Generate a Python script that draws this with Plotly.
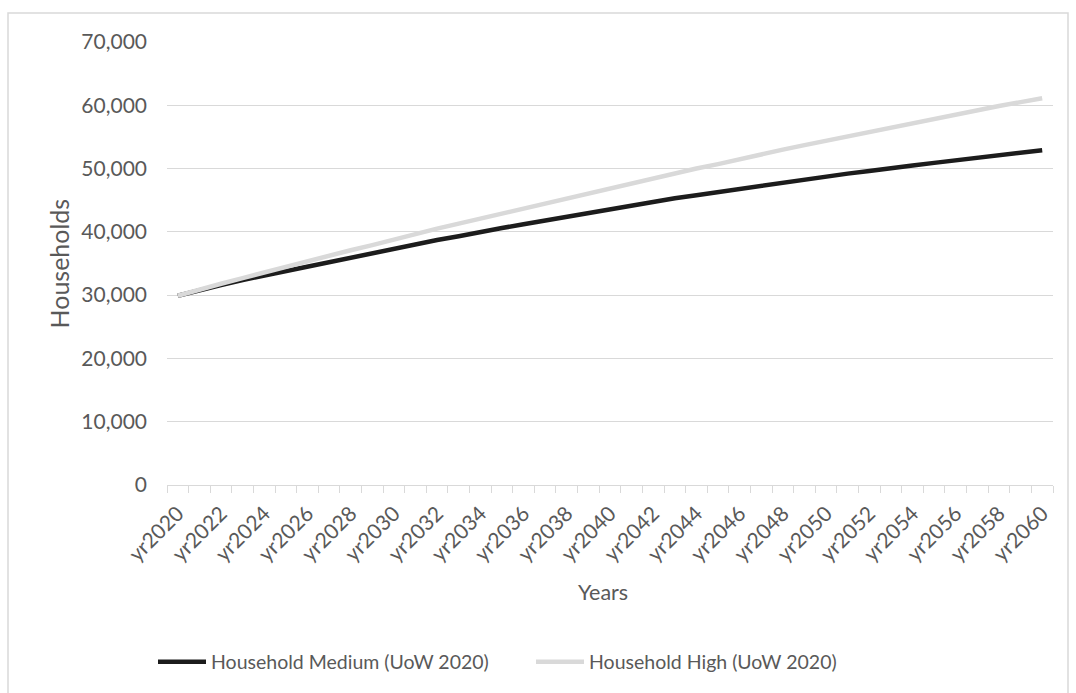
import plotly.graph_objects as go

# Projection years shown on the category axis
years = [f"yr{y}" for y in range(2020, 2061)]

# Household projections (UoW 2020)
household_medium = [
    29900, 30800, 31600, 32400, 33100, 33800, 34600, 35300, 36000, 36700,
    37300, 38000, 38700, 39300, 40000, 40600, 41200, 41800, 42400, 43000,
    43600, 44200, 44700, 45300, 45800, 46300, 46800, 47300, 47800, 48300,
    48800, 49200, 49600, 50100, 50500, 50900, 51300, 51700, 52100, 52500,
    52900,
]
household_high = [
    29900, 30900, 31800, 32700, 33600, 34500, 35400, 36200, 37100, 37900,
    38800, 39600, 40500, 41300, 42100, 42900, 43700, 44500, 45300, 46100,
    46900, 47700, 48400, 49200, 50000, 50700, 51500, 52200, 53000, 53700,
    54400, 55100, 55800, 56500, 57200, 57900, 58600, 59200, 59900, 60500,
    61100,
]

y_ticks = [0, 10000, 20000, 30000, 40000, 50000, 60000, 70000]

FONT = "Lato"
TEXT = "#595959"
GRID = "#d9d9d9"

# show every second year as a label, ticks at every category boundary
tick_text = [lab if i % 2 == 0 else "" for i, lab in enumerate(years)]

fig = go.Figure()
fig.add_trace(go.Scatter(
    x=years, y=household_medium, mode="lines",
    name="Household Medium (UoW 2020)",
    line=dict(color="#1c1c1c", width=4.5),
))
fig.add_trace(go.Scatter(
    x=years, y=household_high, mode="lines",
    name="Household High (UoW 2020)",
    line=dict(color="#d9d9d9", width=4.5),
))

W, H = 1076, 693
L, R, T, B = 167, 23, 42, 208
pw, ph = W - L - R, H - T - B

def px_x(x):
    return (x - L) / pw

def px_y(y):
    return (H - B - y) / ph

fig.update_layout(
    width=W, height=H,
    margin=dict(l=L, r=R, t=T, b=B),
    paper_bgcolor="white", plot_bgcolor="white",
    font=dict(family=FONT, size=21, color=TEXT),
    showlegend=True,
    legend=dict(
        orientation="h", x=px_x(531), y=px_y(662),
        xanchor="center", yanchor="middle",
        font=dict(family=FONT, size=19.5, color=TEXT),
        itemwidth=48, entrywidth=315, entrywidthmode="pixels",
        tracegroupgap=0,
        bgcolor="rgba(0,0,0,0)",
    ),
    xaxis=dict(
        type="category", categoryorder="array", categoryarray=years,
        tickmode="array", tickvals=years, ticktext=tick_text,
        tickson="boundaries", ticks="outside", ticklen=7,
        tickcolor=GRID, tickwidth=1,
        tickangle=-45, ticklabelstandoff=7,
        showline=True, linecolor=GRID, linewidth=1,
        showgrid=False, zeroline=False,
        range=[-0.5, len(years) - 0.5],
        tickfont=dict(family=FONT, size=21, color=TEXT),
    ),
    yaxis=dict(
        range=[0, 70000], tickvals=y_ticks,
        tickformat=",d",
        showgrid=True, gridcolor=GRID, gridwidth=1,
        zeroline=False, showline=False, ticks="",
        ticklabelstandoff=19,
        tickfont=dict(family=FONT, size=21, color=TEXT),
    ),
    annotations=[
        dict(text="Households", xref="paper", yref="paper",
             x=px_x(58), y=0.5, textangle=-90, showarrow=False,
             xanchor="center", yanchor="middle",
             font=dict(family=FONT, size=25, color=TEXT)),
        dict(text="Years", xref="paper", yref="paper",
             x=px_x(603), y=px_y(592), showarrow=False,
             xanchor="center", yanchor="middle",
             font=dict(family=FONT, size=21.5, color=TEXT)),
    ],
    shapes=[
        dict(type="rect", xref="paper", yref="paper",
             x0=px_x(8), x1=px_x(1068), y0=px_y(720), y1=px_y(13),
             line=dict(color=GRID, width=1.5), fillcolor="rgba(0,0,0,0)",
             layer="below"),
    ],
)

fig.write_html("out.html")
